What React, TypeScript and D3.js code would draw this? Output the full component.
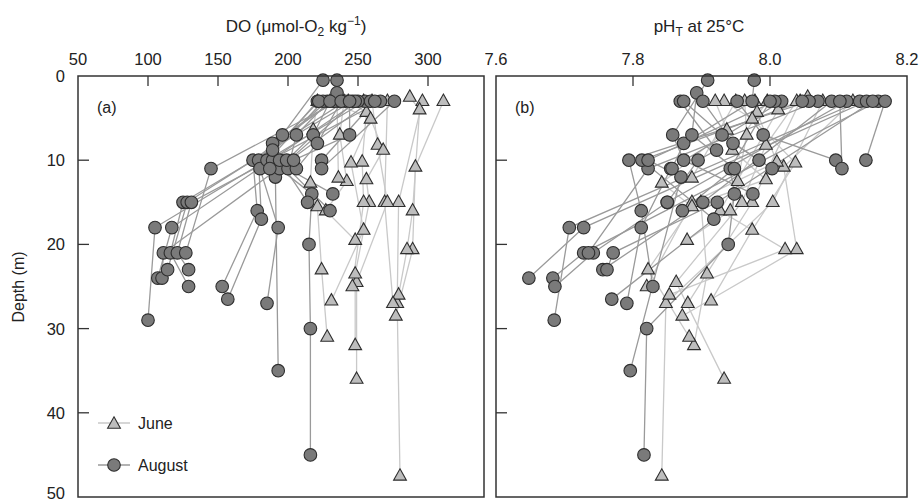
import React from 'react';
import * as d3 from 'd3';

// ---------- DATA ----------
// August profiles (depth m, DO umol/kg, pH_T at 25C)
const augDepths: number[][] = [
  [3, 18, 29],
  [3, 18, 24],
  [3, 21, 24],
  [3, 15, 21, 25],
  [3, 15, 23],
  [3, 15, 21, 23],
  [3, 11, 21],
  [3, 10, 16, 25],
  [3, 10, 17, 26.5],
  [3, 11, 18, 27],
  [3, 10, 12, 35],
  [3, 11, 14, 20, 30, 45],
  [0.5, 7, 10, 14],
  [0.5, 3, 8, 11],
  [2, 7, 11, 16],
  [3, 8.8, 10, 15],
  [3, 7, 10],
  [3, 8, 11],
  [3, 7, 10],
  [3, 10],
  [3, 11],
];
const augDO: number[][] = [
  [255, 105, 100],
  [250, 117, 107],
  [259, 111, 110],
  [246, 125, 116, 129],
  [241, 128, 114],
  [266, 131, 121, 129],
  [236, 145, 127],
  [232, 175, 178, 153],
  [228, 179, 181, 157],
  [225, 180, 193, 185],
  [221, 185, 191, 193],
  [248, 194, 217, 215, 216, 216],
  [225, 196, 189, 232],
  [235, 233, 189, 187],
  [235, 206, 200, 230],
  [222, 189, 194, 214],
  [230, 218, 199],
  [238, 221, 206],
  [244, 244, 204],
  [262, 224],
  [276, 224],
];
const augPH: number[][] = [
  [8.131, 7.707, 7.685],
  [8.141, 7.728, 7.648],
  [8.158, 7.728, 7.683],
  [8.112, 7.850, 7.742, 7.686],
  [8.090, 7.902, 7.756],
  [8.150, 7.923, 7.771, 7.762],
  [8.070, 7.822, 7.735],
  [8.057, 7.794, 7.812, 7.829],
  [8.047, 7.813, 7.918, 7.769],
  [8.017, 7.855, 7.812, 7.791],
  [8.007, 7.822, 7.870, 7.796],
  [8.000, 7.942, 7.948, 7.939, 7.820, 7.816],
  [7.909, 7.858, 7.874, 7.975],
  [7.977, 7.974, 7.874, 7.857],
  [7.893, 7.886, 7.948, 7.872],
  [7.869, 7.922, 7.895, 7.850],
  [7.874, 7.930, 7.984],
  [7.902, 7.946, 8.003],
  [7.952, 7.990, 8.096],
  [8.168, 8.140],
  [8.102, 8.105],
];

// June profiles
const junDepths: number[][] = [
  [3, 15, 27, 47.5],
  [3, 10.8, 20.6, 28.5],
  [2.5, 4, 16, 20.6, 26],
  [3, 15, 27],
  [3, 8.2, 15, 24.5, 36],
  [3, 8.8, 12.3, 15, 23.5, 32],
  [3, 4.3, 10.2, 15, 25],
  [3, 5.1, 10.3, 18.3, 26.7],
  [3, 6.4, 12.7, 15.5, 23, 31],
  [3, 7, 12.5, 16, 19.5],
  [3, 12.1],
];
const junDO: number[][] = [
  [296, 279, 278, 280],
  [311, 291, 289, 277],
  [287, 294, 289, 285, 279],
  [271, 269, 275],
  [260, 264, 271, 249, 249],
  [254, 268, 256, 258, 248, 248],
  [243, 256, 253, 254, 246],
  [230, 259, 245, 254, 231],
  [221, 218, 216, 221, 224, 228],
  [240, 237, 242, 227, 248],
  [235, 236],
];
const junPH: number[][] = [
  [8.077, 8.004, 7.848, 7.842],
  [8.121, 8.020, 8.039, 7.872],
  [8.055, 8.012, 7.927, 8.022, 7.853],
  [8.044, 7.974, 7.880],
  [8.039, 7.994, 7.959, 7.863, 7.933],
  [7.996, 7.945, 7.994, 7.899, 7.908, 7.889],
  [7.978, 7.981, 8.010, 7.886, 7.820],
  [7.933, 7.974, 8.037, 7.974, 7.914],
  [7.920, 7.937, 7.842, 7.886, 7.822, 7.882],
  [7.963, 7.966, 7.953, 7.942, 7.879],
  [7.950, 7.886],
];

const doTicks = [50, 100, 150, 200, 250, 300];
const phTicks = [7.6, 7.8, 8.0, 8.2];
const depthTicks = [0, 10, 20, 30, 40, 50];

// ---------- LAYOUT ----------
const W = 919;
const H = 504;
const TOP = 76;
const BOTTOM = 497;
const A_LEFT = 78;
const A_RIGHT = 484;
const B_LEFT = 496;
const B_RIGHT = 907;
const FONT = '"Liberation Sans", Arial, Helvetica, sans-serif';

const JUNE_LINE = '#c9c9c9';
const AUG_LINE = '#9a9a9a';
const TRI_FILL = '#bdbdbd';
const CIR_FILL = '#7a7a7a';
const STROKE = '#2e2e2e';

const triPath = 'M0,-7.2L6.4,4.2L-6.4,4.2Z';

type Scale = d3.ScaleLinear<number, number>;

function Panel({
  x, y, left, right, ticks, fmt, juneVals, augVals, label, showYLabels,
}: {
  x: Scale; y: Scale; left: number; right: number; ticks: number[];
  fmt: (v: number) => string; juneVals: number[][]; augVals: number[][];
  label: string; showYLabels: boolean;
}) {
  const line = d3.line<[number, number]>().x((d) => d[0]).y((d) => d[1]);
  const profile = (depths: number[], vals: number[]) =>
    depths.map((d, i) => [x(vals[i]), y(d)] as [number, number]);
  return (
    <g>
      {junDepths.map((ds, i) => (
        <path key={'jl' + i} d={line(profile(ds, juneVals[i])) || ''} fill="none" stroke={JUNE_LINE} strokeWidth={1.3} />
      ))}
      {augDepths.map((ds, i) => (
        <path key={'al' + i} d={line(profile(ds, augVals[i])) || ''} fill="none" stroke={AUG_LINE} strokeWidth={1.3} />
      ))}
      {junDepths.map((ds, i) =>
        ds.map((d, j) => (
          <path key={'jt' + i + '-' + j} d={triPath} transform={`translate(${x(juneVals[i][j])},${y(d)})`}
            fill={TRI_FILL} stroke={STROKE} strokeWidth={1.1} />
        ))
      )}
      {augDepths.map((ds, i) =>
        ds.map((d, j) => (
          <circle key={'ac' + i + '-' + j} cx={x(augVals[i][j])} cy={y(d)} r={6.3}
            fill={CIR_FILL} stroke={STROKE} strokeWidth={1.1} />
        ))
      )}
      <rect x={left} y={TOP} width={right - left} height={BOTTOM - TOP} fill="none" stroke="#333" strokeWidth={1.5} />
      {ticks.map((t) => (
        <g key={'xt' + t}>
          {x(t) > left + 1 && x(t) < right - 1 && (
            <line x1={x(t)} x2={x(t)} y1={TOP} y2={TOP + 10} stroke="#333" strokeWidth={1.3} />
          )}
          <text x={x(t)} y={65} textAnchor="middle" fontSize={16.5} fontFamily={FONT} fill="#222">{fmt(t)}</text>
        </g>
      ))}
      {depthTicks.map((t) => (
        <g key={'yt' + t}>
          {t > 0 && t < 50 && (
            <line x1={left} x2={left + 11} y1={y(t)} y2={y(t)} stroke="#333" strokeWidth={1.3} />
          )}
          {showYLabels && (
            <text x={left - 13} y={t === 50 ? y(t) - 4 : y(t)} dy="0.36em" textAnchor="end" fontSize={16.5} fontFamily={FONT} fill="#222">{t}</text>
          )}
        </g>
      ))}
      <text x={left + 19} y={113} fontSize={16} fontFamily={FONT} fill="#222">{label}</text>
    </g>
  );
}

export default function App() {
  const y = d3.scaleLinear().domain([0, 50]).range([TOP, BOTTOM]);
  const xDO = d3.scaleLinear().domain([50, 340]).range([A_LEFT, A_RIGHT]);
  const xPH = d3.scaleLinear().domain([7.6, 8.2]).range([B_LEFT, B_RIGHT]);

  return (
    <svg width={W} height={H} viewBox={`0 0 ${W} ${H}`}
      style={{ position: 'absolute', left: 0, top: 0, background: '#fff' }}>
      <rect x={0} y={0} width={W} height={H} fill="#fff" />
      <Panel x={xDO} y={y} left={A_LEFT} right={A_RIGHT} ticks={doTicks} fmt={(v) => String(v)}
        juneVals={junDO} augVals={augDO} label="(a)" showYLabels={true} />
      <Panel x={xPH} y={y} left={B_LEFT} right={B_RIGHT} ticks={phTicks} fmt={(v) => v.toFixed(1)}
        juneVals={junPH} augVals={augPH} label="(b)" showYLabels={false} />

      <text x={296} y={32} textAnchor="middle" fontSize={17} fontFamily={FONT} fill="#222">
        DO (μmol-O<tspan fontSize={12} dy={4}>2</tspan><tspan dy={-4}> kg</tspan><tspan fontSize={12} dy={-7}>−1</tspan><tspan dy={7}>)</tspan>
      </text>
      <text x={699} y={32} textAnchor="middle" fontSize={17} fontFamily={FONT} fill="#222">
        pH<tspan fontSize={12} dy={4}>T</tspan><tspan dy={-4}> at 25°C</tspan>
      </text>
      <text transform={`translate(24,287) rotate(-90)`} textAnchor="middle" fontSize={16} fontFamily={FONT} fill="#222">
        Depth (m)
      </text>

      <g>
        <line x1={98} x2={130} y1={423} y2={423} stroke={JUNE_LINE} strokeWidth={1.5} />
        <path d={triPath} transform="translate(114,424)" fill={TRI_FILL} stroke={STROKE} strokeWidth={1.1} />
        <text x={138} y={429} fontSize={16} fontFamily={FONT} fill="#222">June</text>
        <line x1={98} x2={130} y1={465} y2={465} stroke={AUG_LINE} strokeWidth={1.5} />
        <circle cx={114} cy={465} r={6.3} fill={CIR_FILL} stroke={STROKE} strokeWidth={1.1} />
        <text x={138} y={471} fontSize={16} fontFamily={FONT} fill="#222">August</text>
      </g>
    </svg>
  );
}
